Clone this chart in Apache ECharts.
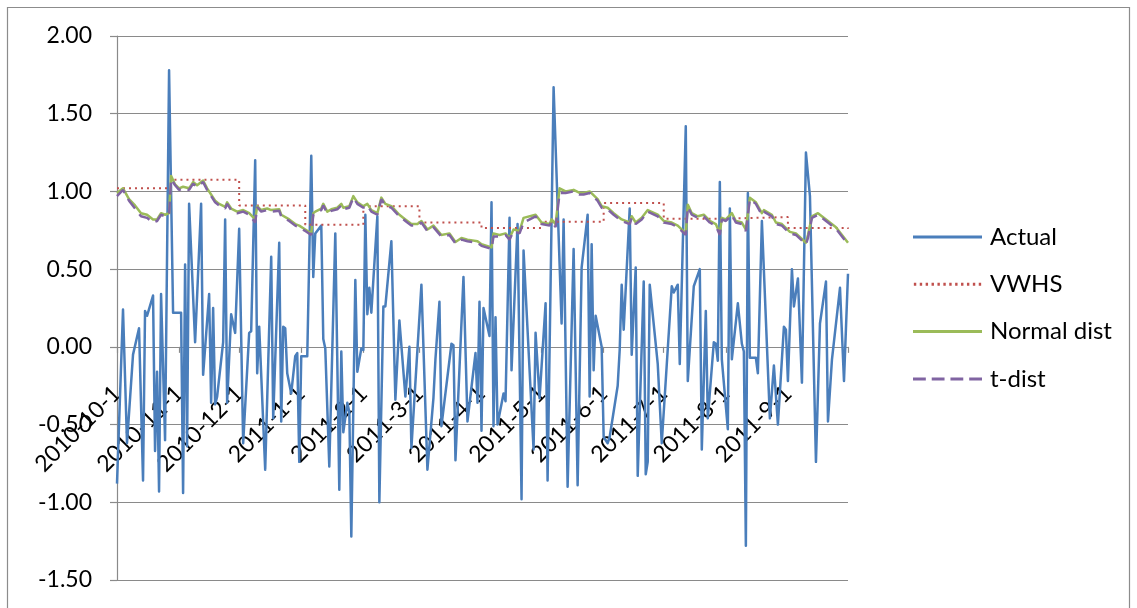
<!DOCTYPE html>
<html>
<head>
<meta charset="utf-8">
<script src="https://cdn.jsdelivr.net/npm/echarts@6/dist/echarts.min.js"></script>
<style>
  html, body { margin: 0; padding: 0; background: #fff; }
  #chart { width: 1137px; height: 608px; }
</style>
</head>
<body>
<div id="chart"></div>
<script>
// Daily return series (vertices of the line)
const actualDates = [
  '2010-10-01','2010-10-04','2010-10-06','2010-10-09','2010-10-12','2010-10-14','2010-10-15','2010-10-16','2010-10-19','2010-10-20',
  '2010-10-21','2010-10-22','2010-10-23','2010-10-25','2010-10-27','2010-10-29','2010-11-02','2010-11-03','2010-11-04','2010-11-05',
  '2010-11-06','2010-11-09','2010-11-12','2010-11-13','2010-11-16','2010-11-17','2010-11-18','2010-11-19','2010-11-20','2010-11-23',
  '2010-11-24','2010-11-25','2010-11-27','2010-11-29','2010-12-01','2010-12-03','2010-12-06','2010-12-07','2010-12-09','2010-12-10',
  '2010-12-11','2010-12-14','2010-12-17','2010-12-18','2010-12-21','2010-12-22','2010-12-23','2010-12-24','2010-12-25','2010-12-27',
  '2010-12-29','2010-12-30','2010-12-31','2011-01-01','2011-01-04','2011-01-06','2011-01-07','2011-01-08','2011-01-11','2011-01-12',
  '2011-01-13','2011-01-15','2011-01-18','2011-01-20','2011-01-21','2011-01-22','2011-01-24','2011-01-25','2011-01-26','2011-01-28',
  '2011-01-29','2011-01-31','2011-02-01','2011-02-02','2011-02-03','2011-02-04','2011-02-05','2011-02-06','2011-02-08','2011-02-09',
  '2011-02-11','2011-02-12','2011-02-15','2011-02-17','2011-02-19','2011-02-22','2011-02-24','2011-02-25','2011-03-02','2011-03-05',
  '2011-03-08','2011-03-09','2011-03-11','2011-03-12','2011-03-17','2011-03-18','2011-03-19','2011-03-23','2011-03-25','2011-03-27',
  '2011-03-29','2011-03-30','2011-03-31','2011-04-01','2011-04-02','2011-04-05','2011-04-06','2011-04-07','2011-04-08','2011-04-09',
  '2011-04-12','2011-04-13','2011-04-15','2011-04-16','2011-04-19','2011-04-21','2011-04-22','2011-04-27','2011-04-28','2011-04-30',
  '2011-05-03','2011-05-04','2011-05-07','2011-05-11','2011-05-12','2011-05-14','2011-05-17','2011-05-19','2011-05-21','2011-05-24',
  '2011-05-25','2011-05-26','2011-05-27','2011-05-28','2011-05-31','2011-06-01','2011-06-03','2011-06-04','2011-06-08','2011-06-09',
  '2011-06-10','2011-06-11','2011-06-14','2011-06-15','2011-06-17','2011-06-18','2011-06-21','2011-06-22','2011-06-23','2011-06-24',
  '2011-06-28','2011-06-30','2011-07-05','2011-07-06','2011-07-08','2011-07-09','2011-07-12','2011-07-13','2011-07-16','2011-07-19',
  '2011-07-20','2011-07-22','2011-07-23','2011-07-26','2011-07-27','2011-07-28','2011-07-29','2011-07-30','2011-08-02','2011-08-03',
  '2011-08-04','2011-08-07','2011-08-09','2011-08-10','2011-08-11','2011-08-12','2011-08-13','2011-08-16','2011-08-17','2011-08-19',
  '2011-08-23','2011-08-25','2011-08-27','2011-08-30','2011-08-31','2011-09-01','2011-09-03','2011-09-04','2011-09-06','2011-09-08',
  '2011-09-10','2011-09-12','2011-09-15','2011-09-17','2011-09-20','2011-09-21','2011-09-23','2011-09-27','2011-09-29','2011-10-01'
];
const actualValues = [
  -0.88, 0.24, -0.62, -0.05, 0.12, -0.86, 0.23, 0.20, 0.33, -0.67,
  -0.16, -0.93, 0.34, -0.60, 1.78, 0.22, 0.22, -0.94, 0.53, -0.64,
  0.92, 0.03, 0.92, -0.18, 0.34, -0.36, 0.25, -0.37, -0.32, 0.03,
  0.82, -0.36, 0.21, 0.09, 0.76, -0.62, 0.09, 0.10, 1.20, -0.17,
  0.13, -0.79, 0.58, -0.46, 0.67, -0.48, 0.13, 0.12, -0.17, -0.30,
  -0.06, -0.04, -0.74, -0.06, -0.06, 1.23, 0.45, 0.73, 0.78, 0.05,
  -0.01, -0.77, 0.73, -0.92, -0.03, -0.55, -0.36, -0.42, -1.22, 0.43,
  -0.16, -0.01, -0.02, 0.85, 0.21, 0.38, 0.22, 0.43, 0.84, -1.00,
  0.26, 0.26, 0.68, -0.34, 0.17, -0.32, 0.00, -0.65, 0.40, -0.79,
  -0.33, -0.08, 0.29, -0.51, 0.02, 0.01, -0.73, 0.45, -0.48, -0.26,
  -0.04, -0.36, 0.29, -0.54, 0.25, 0.07, 0.93, -0.51, 0.19, -0.50,
  -0.30, -0.35, 0.83, -0.15, 0.79, -0.98, 0.62, -0.66, 0.09, -0.33,
  0.28, -0.86, 1.67, 0.15, 0.82, -0.90, 0.63, -0.89, 0.51, 0.85,
  -0.32, 0.66, -0.15, 0.20, 0.00, -0.58, -0.62, -0.58, -0.25, -0.02,
  0.40, 0.11, 0.89, -0.05, 0.51, -0.83, 0.42, -0.82, -0.74, 0.40,
  -0.11, -0.62, 0.39, 0.35, 0.40, -0.11, 1.42, -0.22, 0.39, 0.50,
  -0.66, 0.23, -0.46, 0.03, 0.02, -0.09, 1.06, -0.08, -0.53, 0.89,
  -0.08, 0.28, 0.02, -0.03, -1.28, 0.99, -0.07, -0.07, -0.17, 0.81,
  -0.46, -0.12, -0.50, 0.13, 0.11, -0.22, 0.50, 0.26, 0.44, -0.23,
  1.25, 0.97, -0.74, 0.15, 0.42, -0.48, -0.08, 0.38, -0.22, 0.47
];

// Volatility-weighted historical simulation (held until the next change)
const vwhsDates = ['2010-10-01','2010-10-28','2010-12-01','2011-01-03','2011-02-01','2011-03-01',
  '2011-04-01','2011-05-01','2011-06-01','2011-07-01','2011-08-01','2011-09-01','2011-10-01'];
const vwhsValues = [1.02, 1.075, 0.91, 0.785, 0.905, 0.80, 0.765, 0.805, 0.925, 0.825, 0.835, 0.765, 0.76];

// Parametric estimates: normal and Student-t
const distDates = [
  '2010-10-01','2010-10-04','2010-10-07','2010-10-10','2010-10-13','2010-10-16','2010-10-19','2010-10-21','2010-10-23','2010-10-25',
  '2010-10-27','2010-10-28','2010-10-30','2010-11-01','2010-11-03','2010-11-06','2010-11-08','2010-11-10','2010-11-13','2010-11-15',
  '2010-11-19','2010-11-21','2010-11-24','2010-11-25','2010-11-27','2010-11-30','2010-12-03','2010-12-06','2010-12-09','2010-12-10',
  '2010-12-12','2010-12-15','2010-12-17','2010-12-21','2010-12-22','2010-12-26','2010-12-29','2010-12-31','2011-01-03','2011-01-06',
  '2011-01-07','2011-01-08','2011-01-11','2011-01-12','2011-01-14','2011-01-16','2011-01-19','2011-01-21','2011-01-22','2011-01-25',
  '2011-01-27','2011-01-29','2011-02-01','2011-02-03','2011-02-05','2011-02-08','2011-02-10','2011-02-12','2011-02-15','2011-02-19',
  '2011-02-22','2011-02-25','2011-02-28','2011-03-02','2011-03-05','2011-03-08','2011-03-12','2011-03-16','2011-03-19','2011-03-22',
  '2011-03-25','2011-03-30','2011-04-01','2011-04-06','2011-04-07','2011-04-10','2011-04-13','2011-04-15','2011-04-17','2011-04-20',
  '2011-04-22','2011-04-28','2011-05-01','2011-05-05','2011-05-06','2011-05-08','2011-05-10','2011-05-13','2011-05-17','2011-05-20',
  '2011-05-22','2011-05-25','2011-05-29','2011-05-31','2011-06-03','2011-06-06','2011-06-10','2011-06-14','2011-06-15','2011-06-17',
  '2011-06-20','2011-06-23','2011-06-28','2011-07-01','2011-07-05','2011-07-08','2011-07-12','2011-07-13','2011-07-15','2011-07-18',
  '2011-07-21','2011-07-24','2011-07-27','2011-07-29','2011-07-30','2011-08-01','2011-08-04','2011-08-06','2011-08-09','2011-08-11',
  '2011-08-13','2011-08-16','2011-08-19','2011-08-20','2011-08-24','2011-08-26','2011-08-29','2011-09-02','2011-09-05','2011-09-10',
  '2011-09-11','2011-09-13','2011-09-16','2011-09-21','2011-09-25','2011-09-28','2011-10-01'
];
const normalValues = [
  0.99, 1.02, 0.95, 0.91, 0.86, 0.85, 0.82, 0.82, 0.86, 0.85,
  0.86, 1.10, 1.045, 1.02, 1.03, 1.02, 1.06, 1.04, 1.07, 1.02,
  0.94, 0.92, 0.90, 0.93, 0.89, 0.87, 0.88, 0.86, 0.82, 0.905,
  0.88, 0.89, 0.88, 0.885, 0.85, 0.82, 0.79, 0.78, 0.755, 0.73,
  0.86, 0.87, 0.89, 0.92, 0.87, 0.885, 0.895, 0.92, 0.895, 0.905,
  0.97, 0.93, 0.905, 0.92, 0.88, 0.86, 0.96, 0.92, 0.905, 0.85,
  0.82, 0.79, 0.79, 0.81, 0.755, 0.78, 0.72, 0.73, 0.675, 0.70,
  0.69, 0.68, 0.66, 0.64, 0.73, 0.72, 0.73, 0.70, 0.755, 0.745,
  0.83, 0.85, 0.80, 0.79, 0.82, 0.79, 1.02, 1.00, 1.01, 0.99,
  0.99, 1.00, 0.95, 0.905, 0.895, 0.86, 0.82, 0.80, 0.84, 0.80,
  0.83, 0.88, 0.85, 0.81, 0.80, 0.78, 0.73, 0.915, 0.86, 0.84,
  0.85, 0.81, 0.79, 0.73, 0.83, 0.82, 0.86, 0.81, 0.80, 0.755,
  0.96, 0.93, 0.86, 0.88, 0.85, 0.80, 0.79, 0.74, 0.73, 0.67,
  0.72, 0.84, 0.86, 0.81, 0.77, 0.72, 0.67
];
const tValues = [
  0.97, 1.01, 0.94, 0.89, 0.84, 0.83, 0.80, 0.81, 0.85, 0.84,
  0.85, 1.08, 1.04, 1.01, 1.02, 1.01, 1.05, 1.03, 1.06, 1.01,
  0.93, 0.91, 0.89, 0.92, 0.88, 0.86, 0.87, 0.85, 0.80, 0.90,
  0.87, 0.88, 0.87, 0.875, 0.84, 0.81, 0.78, 0.77, 0.745, 0.72,
  0.85, 0.86, 0.88, 0.91, 0.86, 0.875, 0.885, 0.91, 0.885, 0.895,
  0.96, 0.92, 0.895, 0.91, 0.87, 0.85, 0.95, 0.91, 0.895, 0.84,
  0.81, 0.78, 0.78, 0.80, 0.745, 0.77, 0.71, 0.72, 0.665, 0.69,
  0.68, 0.67, 0.65, 0.63, 0.71, 0.71, 0.72, 0.69, 0.745, 0.73,
  0.80, 0.84, 0.79, 0.78, 0.81, 0.77, 0.99, 0.99, 1.00, 0.98,
  0.98, 0.99, 0.94, 0.895, 0.885, 0.85, 0.81, 0.79, 0.83, 0.79,
  0.82, 0.87, 0.84, 0.80, 0.79, 0.77, 0.72, 0.90, 0.85, 0.83,
  0.84, 0.80, 0.78, 0.72, 0.82, 0.81, 0.85, 0.80, 0.79, 0.745,
  0.95, 0.92, 0.85, 0.87, 0.84, 0.79, 0.78, 0.73, 0.72, 0.66,
  0.70, 0.83, 0.85, 0.80, 0.76, 0.71, 0.66
];

// Month starts carrying axis ticks; the last one has no label
const monthTicks = ['2010-10-01','2010-11-01','2010-12-01','2011-01-01','2011-02-01','2011-03-01',
  '2011-04-01','2011-05-01','2011-06-01','2011-07-01','2011-08-01','2011-09-01','2011-10-01'];

const yTicks = { min: -1.5, max: 2.0, step: 0.5 };

function toTime(s) {
  const p = s.split('-').map(Number);
  return new Date(p[0], p[1] - 1, p[2]).getTime();
}
function pairs(dates, values) {
  return dates.map((d, i) => [toTime(d), values[i]]);
}

const FONT = 'Lato, "Liberation Sans", sans-serif';
const GRID = '#8a8a8a';
const W = 1137, H = 608;
const gridBox = { left: 117, right: 289, top: 36, bottom: 28 };
// the date axis crosses the value axis at 0
const plotH = H - gridBox.top - gridBox.bottom;
const zeroOffset = -plotH * (0 - yTicks.min) / (yTicks.max - yTicks.min);

// legend line samples in each series' stroke pattern
const legendIcons = {
  'Actual': 'path://M0,0h70v3h-70z',
  'VWHS': 'path://' + Array.from({ length: 12 }, (_, i) => 'M' + (i * 5.9) + ',0h2.4v3h-2.4z').join(''),
  'Normal dist': 'path://M0,0h70v3h-70z',
  't-dist': 'path://M0,0h13v3h-13zM19,0h13v3h-13zM38,0h13v3h-13zM57,0h13v3h-13z'
};

const chart = echarts.init(document.getElementById('chart'), null, { renderer: 'canvas' });
chart.setOption({
  animation: false,
  backgroundColor: '#ffffff',
  textStyle: { fontFamily: FONT },
  graphic: [{
    type: 'rect',
    shape: { x: 7.5, y: 7.5, width: 1122, height: 640 },
    style: { fill: 'none', stroke: '#8c8c8c', lineWidth: 1.2 },
    silent: true, z: -1
  }],
  grid: Object.assign({ containLabel: false, outerBoundsMode: 'none' }, gridBox),
  legend: {
    orient: 'vertical',
    left: 908,
    top: 220,
    itemWidth: 69,
    itemHeight: 3,
    itemGap: 23.3,
    textStyle: { fontFamily: FONT, fontSize: 24, color: '#000', lineHeight: 24, padding: [0, 0, 0, 3] },
    data: Object.keys(legendIcons).map(n => ({ name: n, icon: legendIcons[n] }))
  },
  // Date axis on a linear scale of timestamps, ticks at month starts
  xAxis: {
    type: 'value',
    min: toTime(monthTicks[0]),
    max: toTime(monthTicks[monthTicks.length - 1]),
    offset: zeroOffset,
    axisLine: { show: true, onZero: false, lineStyle: { color: GRID, width: 1.2 } },
    axisTick: {
      show: true, inside: false, length: 6,
      customValues: monthTicks.map(toTime),
      lineStyle: { color: GRID, width: 1.2 }
    },
    axisLabel: {
      show: true,
      rotate: 45,
      margin: 43,
      fontFamily: FONT,
      fontSize: 23,
      color: '#000',
      customValues: monthTicks.slice(0, -1).map(toTime),
      formatter: function (v) {
        const d = new Date(v);
        return d.getFullYear() + '-' + (d.getMonth() + 1) + '-' + d.getDate();
      }
    },
    splitLine: { show: false }
  },
  yAxis: {
    type: 'value',
    min: yTicks.min,
    max: yTicks.max,
    interval: yTicks.step,
    axisLine: { show: true, onZero: false, lineStyle: { color: GRID, width: 1.2 } },
    axisTick: { show: true, inside: false, length: 7, lineStyle: { color: GRID, width: 1.2 } },
    axisLabel: {
      margin: 25,
      fontFamily: FONT,
      fontSize: 23,
      color: '#000',
      formatter: v => v.toFixed(2)
    },
    splitLine: { show: true, lineStyle: { color: GRID, width: 1.2 } }
  },
  series: [
    {
      name: 'Actual', type: 'line', showSymbol: false, symbol: 'none',
      data: pairs(actualDates, actualValues),
      lineStyle: { color: '#4A7EBB', width: 2.5, join: 'round' },
      itemStyle: { color: '#4A7EBB' },
      z: 2
    },
    {
      name: 'VWHS', type: 'line', showSymbol: false, symbol: 'none', step: 'end',
      data: pairs(vwhsDates, vwhsValues),
      lineStyle: { color: '#C0504D', width: 2, type: [2, 4] },
      itemStyle: { color: '#C0504D' },
      z: 3
    },
    {
      name: 'Normal dist', type: 'line', showSymbol: false, symbol: 'none',
      data: pairs(distDates, normalValues),
      lineStyle: { color: '#9BBB59', width: 2.5, join: 'round' },
      itemStyle: { color: '#9BBB59' },
      z: 4
    },
    {
      name: 't-dist', type: 'line', showSymbol: false, symbol: 'none',
      data: pairs(distDates, tValues),
      lineStyle: { color: '#8064A2', width: 2.5, type: [12, 7] },
      itemStyle: { color: '#8064A2' },
      z: 5
    }
  ]
});
</script>
</body>
</html>
